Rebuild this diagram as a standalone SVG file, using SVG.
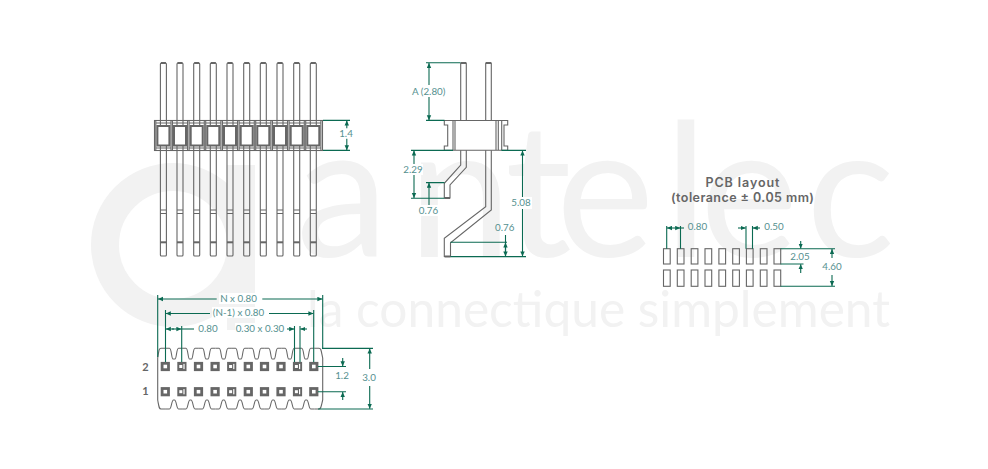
<svg xmlns="http://www.w3.org/2000/svg" width="988" height="469" viewBox="0 0 988 469">
<style>
.wm{fill:#f2f2f2;font-family:Lato,sans-serif;font-weight:400}
.g{fill:none;stroke:#666;stroke-width:1.1}
.gt{fill:none;stroke:#666;stroke-width:2}
.d{fill:none;stroke:#0b6a52;stroke-width:1.1}
.a{marker-end:url(#ah)}
.aa{marker-start:url(#ahs);marker-end:url(#ah)}
.l{fill:#55908f;font-family:Lato,sans-serif;font-size:9.8px;text-anchor:middle}
.t{fill:#666;font-family:Inter,sans-serif;font-size:12.5px;font-weight:600;text-anchor:middle}
.n{fill:#666;font-family:Lato,sans-serif;font-size:11px;font-weight:700;text-anchor:middle}
.bg{fill:#fff}
.pd{fill:#666}
.w{fill:#fff}
</style>
<defs>
<marker id="ah" markerUnits="userSpaceOnUse" markerWidth="6" markerHeight="6" refX="5" refY="2.5" orient="auto"><path d="M0,0.3L5,2.5L0,4.7z" fill="#0b6a52"/></marker>
<marker id="ahs" markerUnits="userSpaceOnUse" markerWidth="6" markerHeight="6" refX="0" refY="2.5" orient="auto"><path d="M5,0.3L0,2.5L5,4.7z" fill="#0b6a52"/></marker>
<g id="pin">
<path class="g" d="M-3,120V64Q-3,63 -2,63H2Q3,63 3,64V120"/><path class="gt" d="M-2.5,63H2.5"/>
<path class="g" d="M-3,150V255Q-3,256 -2,256H2Q3,256 3,255V150M-3,210H3M-3,213.5H3"/>
<path class="gt" d="M-3,242.3H3"/>
<rect class="gt" x="-6" y="126" width="12" height="19.5"/>
<path class="g" d="M-3,120.5V126M3,120.5V126M-3,145.5V150.5M3,145.5V150.5M-7.5,123H7.5M-7.5,148H7.5M-7.6,120.5V150.5M7.6,120.5V150.5"/>
</g>
<g id="pad"><rect class="pd" x="-4.6" y="-4.6" width="9.2" height="9.2"/><rect class="w" x="-1.8" y="-1.8" width="3.6" height="3.6"/></g>
<g id="padb"><rect class="pd" x="-4.6" y="-4.6" width="9.2" height="9.2"/><rect class="w" x="-2.6" y="-1.5" width="3" height="3"/><rect class="w" x="1.5" y="-2.6" width="1.2" height="5.2"/></g>
<path id="ct" class="g" d="M-8.27,348.3H-4.5C-2.5,348.3 -2.5,359 -1,359H1C2.5,359 2.5,348.3 4.5,348.3H8.27"/>
<path id="cb" class="g" d="M-8.27,409H-4.5C-2.5,409 -2.5,400 -0.5,400H0.5C2.5,400 2.5,409 4.5,409H8.27"/>
<rect id="lp" class="g" x="0" y="0" width="6.7" height="15.3"/>
<rect id="lp2" class="g" x="0" y="0" width="6.7" height="16.3"/>
</defs>
<rect width="988" height="469" fill="#fff"/>
<g id="watermark">
<circle cx="173" cy="245" r="68" fill="none" stroke="#f2f2f2" stroke-width="28"/>
<path d="M227,165H255V330H227Z" fill="#f2f2f2"/>
<text class="wm" font-size="186" y="257" x="296 408 505 556 664 700 806">antelec</text>
<text class="wm" font-size="50" x="307" y="327" textLength="583" lengthAdjust="spacingAndGlyphs">la connectique simplement</text>
</g>
<g id="front-view">
<rect class="g" x="154.5" y="120.5" width="168" height="30"/>
<use href="#pin" x="163.4"/><use href="#pin" x="180"/><use href="#pin" x="196.7"/><use href="#pin" x="213.3"/><use href="#pin" x="230"/><use href="#pin" x="246.7"/><use href="#pin" x="263.3"/><use href="#pin" x="280"/><use href="#pin" x="296.7"/><use href="#pin" x="313.3"/>
</g>
<g id="side-view">
<path class="g" d="M460.7,120V63H466.3V120M485.7,120V63H491.3V120"/>
<path class="gt" d="M461,63H466M486,63H491"/>
<path class="g" d="M453,120.5H501.7V150.3H453ZM452.7,120.5H444.3V125H447.7V146H444.3V150.3H453M501.7,120.5H507.7V125H504V146H507.7V150.3H501.7M455,120.5V150.3M496,120.5V150.3M498.3,120.5V150.3"/>
<path class="g" d="M460.7,150.3V165L444.3,183.3V198H450V185L466.3,167.3V150.3"/>
<path class="gt" d="M444.5,198H450"/>
<path class="g" d="M485.7,150.3V206.7L444.3,238.3V256.5H450.5V242.7L491.3,210V150.3"/>
<path class="gt" d="M444.5,256.5H450.5"/>
</g>
<g id="bottom-view">
<path class="g" d="M157.7,358V400"/><path class="g" d="M322.7,358V400"/>
<path class="g" d="M157.7,358C159,350 159,348.3 161,348.3H165.8M314.5,348.3H319C321,348.3 321,350 322.7,358"/>
<path class="g" d="M157.7,400C159,407 159,409 161,409H165.8M314.5,409H319C321,409 321,407 322.7,400"/>
<use href="#ct" x="174"/><use href="#ct" x="190.5"/><use href="#ct" x="207"/><use href="#ct" x="223.6"/><use href="#ct" x="240.1"/><use href="#ct" x="256.6"/><use href="#ct" x="273.2"/><use href="#ct" x="289.7"/><use href="#ct" x="306.2"/>
<use href="#cb" x="174"/><use href="#cb" x="190.5"/><use href="#cb" x="207"/><use href="#cb" x="223.6"/><use href="#cb" x="240.1"/><use href="#cb" x="256.6"/><use href="#cb" x="273.2"/><use href="#cb" x="289.7"/><use href="#cb" x="306.2"/>
<use href="#pad" x="165.3" y="366.5"/><use href="#padb" x="181.9" y="366.5"/><use href="#pad" x="198.5" y="366.5"/><use href="#pad" x="215.1" y="366.5"/><use href="#padb" x="231.7" y="366.5"/><use href="#pad" x="248.3" y="366.5"/><use href="#pad" x="264.5" y="366.5"/><use href="#pad" x="281" y="366.5"/><use href="#padb" x="297.5" y="366.5"/><use href="#pad" x="313.8" y="366.5"/>
<use href="#pad" x="165.3" y="391.7"/><use href="#padb" x="181.9" y="391.7"/><use href="#pad" x="198.5" y="391.7"/><use href="#pad" x="215.1" y="391.7"/><use href="#padb" x="231.7" y="391.7"/><use href="#pad" x="248.3" y="391.7"/><use href="#pad" x="264.5" y="391.7"/><use href="#pad" x="281" y="391.7"/><use href="#padb" x="297.5" y="391.7"/><use href="#pad" x="313.8" y="391.7"/>
<text class="n" x="145.5" y="370.5">2</text><text class="n" x="145.5" y="395">1</text>
</g>
<g id="pcb-layout">
<text class="t" x="742.5" y="187" textLength="74">PCB layout</text>
<text class="t" x="742.5" y="202" textLength="143">(tolerance ± 0.05 mm)</text>
<use href="#lp" x="663.5" y="248.7"/><use href="#lp" x="677.3" y="248.7"/><use href="#lp" x="691.2" y="248.7"/><use href="#lp" x="705" y="248.7"/><use href="#lp" x="718.9" y="248.7"/><use href="#lp" x="732.7" y="248.7"/><use href="#lp" x="746.4" y="248.7"/><use href="#lp" x="760.3" y="248.7"/><use href="#lp" x="774" y="248.7"/>
<use href="#lp2" x="663.5" y="270"/><use href="#lp2" x="677.3" y="270"/><use href="#lp2" x="691.2" y="270"/><use href="#lp2" x="705" y="270"/><use href="#lp2" x="718.9" y="270"/><use href="#lp2" x="732.7" y="270"/><use href="#lp2" x="746.4" y="270"/><use href="#lp2" x="760.3" y="270"/><use href="#lp2" x="774" y="270"/>
</g>
<g id="connectors">
<path class="d" d="M323,120.4H350M323,150.4H350"/>
<path class="d a" d="M346.8,128.5V120.6"/><path class="d a" d="M346.8,138.5V150.2"/>
<path class="d" d="M426,62.7H460.5M426,120.4H444.5"/>
<path class="d a" d="M429,85V63"/><path class="d a" d="M429,97V120.2"/>
<path class="d" d="M411,150.4H453M501.5,150.4H526M411,198.2H444.5M426,182.6H444.5M450.5,256.6H526M450.5,242.3H507"/>
<path class="d aa" d="M414,150.6V198"/>
<path class="d a" d="M429,198V182.8"/><path class="d" d="M429,198V205"/>
<path class="d aa" d="M522.5,150.6V256.4"/>
<path class="d" d="M505.5,235V256.4"/><path class="d a" d="M505.5,252V242.5"/><path class="d a" d="M505.5,247V256.4"/>
<path class="d" d="M157.7,295V357M322.7,295V348M165.5,310V362M313.7,310V362M181.7,326V362M294.5,326V362M300,326V362"/>
<path class="d a" d="M216.7,299H158"/><path class="d a" d="M262.3,299H322.4"/>
<path class="d a" d="M210,313.5H165.8"/><path class="d a" d="M269,313.5H313.4"/>
<path class="d a" d="M174,329H165.8"/><path class="d" d="M181.7,329H194"/><path class="d a" d="M172,329H181.4"/>
<path class="d a" d="M287,329H294.2"/><path class="d a" d="M307,329H300.3"/>
<path class="d" d="M322,348.4H373M318,409H373M318,366.5H346M318,391.7H346"/>
<path class="d a" d="M369.7,369V348.6"/><path class="d a" d="M369.7,386V408.8"/>
<path class="d a" d="M342.7,358V366.3"/><path class="d a" d="M342.7,400V391.9"/>
<path class="d" d="M666.7,226V248.7M680.5,226V248.7M746,226V248.7M752.5,226V248.7"/>
<path class="d aa" d="M667,228H680.2"/><path class="d" d="M680.5,228H684"/>
<path class="d a" d="M738,228H745.7"/><path class="d a" d="M760,228H752.8"/>
<path class="d" d="M780.5,248.7H835M780.5,264H803.5M780.5,286.3H835"/>
<path class="d a" d="M800.7,241V248.5"/><path class="d a" d="M800.7,273V264.2"/>
<path class="d a" d="M832,258V248.9"/><path class="d a" d="M832,275V286.1"/>
</g>
<g id="labels">
<rect class="bg" x="337" y="128.5" width="18" height="10"/><text class="l" x="346" y="137">1.4</text>
<rect class="bg" x="411" y="85" width="36" height="12"/><text class="l" x="428.7" y="94.5">A (2.80)</text>
<rect class="bg" x="403" y="164" width="20" height="11"/><text class="l" x="413" y="173">2.29</text>
<rect class="bg" x="418" y="205" width="21" height="11"/><text class="l" x="428.5" y="214">0.76</text>
<rect class="bg" x="510" y="197" width="22" height="12"/><text class="l" x="521" y="206.3">5.08</text>
<text class="l" x="504.8" y="231.3">0.76</text>
<rect class="bg" x="219" y="293" width="39" height="11"/><text class="l" x="238.5" y="301.5">N x 0.80</text>
<rect class="bg" x="212" y="307" width="55" height="11"/><text class="l" x="238.5" y="315.8">(N-1) x 0.80</text>
<text class="l" x="208" y="332">0.80</text>
<rect class="bg" x="235" y="323" width="50" height="11"/><text class="l" x="260" y="332">0.30 x 0.30</text>
<text class="l" x="342" y="379">1.2</text>
<rect class="bg" x="360" y="372" width="18" height="11"/><text class="l" x="369" y="381">3.0</text>
<text class="l" x="697.5" y="230">0.80</text>
<text class="l" x="774" y="230">0.50</text>
<text class="l" x="800" y="259.5">2.05</text>
<rect class="bg" x="822" y="261" width="20" height="11"/><text class="l" x="832" y="270">4.60</text>
</g>
</svg>
